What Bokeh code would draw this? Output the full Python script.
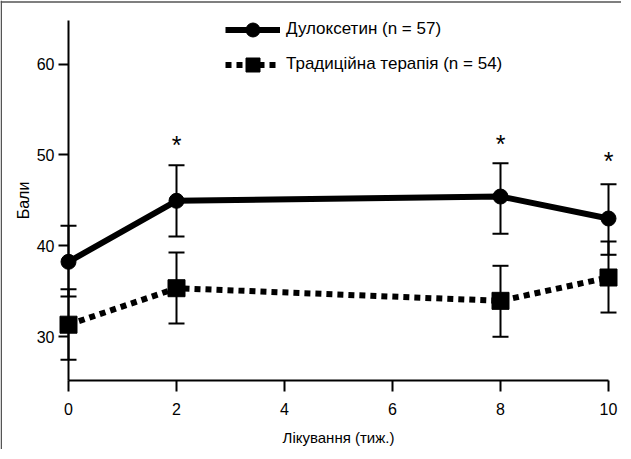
from bokeh.plotting import figure
from bokeh.models import (ColumnDataSource, LinearAxis, FixedTicker, Range1d,
                          Whisker, TeeHead, Legend, LegendItem, Span)
from bokeh.core.properties import value
from bokeh.embed import file_html
from bokeh.resources import INLINE

# ---- data ----
weeks = [0, 2, 8, 10]
dulox_mean = [38.23, 44.95, 45.42, 43.0]
dulox_upper = [42.2, 48.87, 49.09, 46.78]
dulox_lower = [34.4, 41.02, 41.31, 39.0]
trad_mean = [31.3, 35.32, 33.93, 36.5]
trad_upper = [35.2, 39.25, 37.79, 40.47]
trad_lower = [27.45, 31.43, 29.97, 32.64]
star_weeks = [2, 8, 10]
star_y = [51.74, 51.92, 49.97]
x_ticks = [0, 2, 4, 6, 8, 10]
y_ticks = [30, 40, 50, 60]
label_dulox = "Дулоксетин (n = 57)"
label_trad = "Традиційна терапія (n = 54)"
x_title = "Лікування (тиж.)"
y_title = "Бали"

FONT = "Liberation Sans"

# ---- layout plan (pixels on the canvas; canvas sits at page (8, 8)) ----
W, H = 621, 449
x0_px, x10_px = 68.0, 608.0          # canvas x of week 0 and week 10
y30_px, y60_px = 336.0, 63.7         # canvas y of 30 and 60
y_axis_lo, y_axis_hi = 25.15, 64.8   # drawn extent of the value axis

ppx = (x10_px - x0_px) / 10.0
ppy = (y30_px - y60_px) / 30.0
x_start = 0 - x0_px / ppx
x_end = 10 + (W - x10_px) / ppx
y_start = 30 - (H - y30_px) / ppy
y_end = 60 + y60_px / ppy

p = figure(width=W, height=H, output_backend="svg", toolbar_location=None,
           x_axis_location=None, y_axis_location=None,
           x_range=Range1d(x_start, x_end), y_range=Range1d(y_start, y_end),
           min_border_left=0, min_border_right=0, min_border_top=0,
           min_border_bottom=0)
p.outline_line_color = None
p.background_fill_color = "white"
p.border_fill_color = "white"
p.grid.grid_line_color = None

# frame border (top and left edges, as in the reference)
p.add_layout(Span(location=x_start + 0.75 / ppx, dimension="height",
                  line_color="#555555", line_width=1.5))
p.add_layout(Span(location=y_end - 1.5 / ppy, dimension="width",
                  line_color="#555555", line_width=1.5))

# axes
xaxis = LinearAxis(ticker=FixedTicker(ticks=x_ticks), fixed_location=y_axis_lo,
                   bounds=(0, 10))
yaxis = LinearAxis(ticker=FixedTicker(ticks=y_ticks), fixed_location=0,
                   bounds=(y_axis_lo, y_axis_hi))
for ax in (xaxis, yaxis):
    ax.axis_line_width = 2
    ax.major_tick_line_width = 2
    ax.minor_tick_line_color = None
    ax.major_tick_in = 0
    ax.major_label_text_font = FONT
    ax.major_label_text_font_size = "16px"
    ax.major_label_text_color = "black"
    ax.axis_label_text_font = FONT
    ax.axis_label_text_font_style = "normal"
    ax.axis_label_text_color = "black"
xaxis.major_tick_out = 11
xaxis.major_label_standoff = 11
xaxis.axis_label = x_title
xaxis.axis_label_text_font_size = "15px"
xaxis.axis_label_standoff = 11
yaxis.major_tick_out = 10
yaxis.major_label_standoff = 4
yaxis.axis_label = y_title
yaxis.axis_label_text_font_size = "16px"
yaxis.axis_label_standoff = 2
p.add_layout(xaxis, "below")
p.add_layout(yaxis, "left")

# error bars
src_d = ColumnDataSource(dict(x=weeks, m=dulox_mean, up=dulox_upper, lo=dulox_lower))
src_t = ColumnDataSource(dict(x=weeks, m=trad_mean, up=trad_upper, lo=trad_lower))
for src in (src_d, src_t):
    w = Whisker(source=src, base="x", upper="up", lower="lo", dimension="height",
                line_width=2, line_color="black",
                upper_head=TeeHead(size=16, line_width=2, line_color="black"),
                lower_head=TeeHead(size=16, line_width=2, line_color="black"))
    p.add_layout(w)

# series
lt = p.line("x", "m", source=src_t, line_width=6, line_color="black", line_dash="6 5")
mt = p.scatter("x", "m", source=src_t, marker="square", size=17,
               fill_color="black", line_color="black")
ld = p.line("x", "m", source=src_d, line_width=6, line_color="black")
md = p.scatter("x", "m", source=src_d, marker="circle", size=15,
               fill_color="black", line_color="black")

# significance marks
p.text(x=star_weeks, y=star_y, text=["*"] * len(star_weeks),
       text_font=value(FONT), text_font_size="25px", text_align="center",
       text_baseline="middle", y_offset=6, text_color="black")

# legend: glyph column from canvas x 225, rows centred at canvas y 29 and 64
legend = Legend(items=[LegendItem(label=label_dulox, renderers=[ld, md]),
                       LegendItem(label=label_trad, renderers=[lt, mt])],
                location=(225, H - 81.5), orientation="vertical",
                glyph_width=55, glyph_height=35, spacing=0, padding=0, margin=0,
                label_standoff=6, label_text_font=FONT, label_text_font_size="17px",
                label_text_color="black", border_line_color=None,
                background_fill_alpha=0)
p.add_layout(legend, "center")

open("out.html", "w").write(file_html(p, INLINE))
